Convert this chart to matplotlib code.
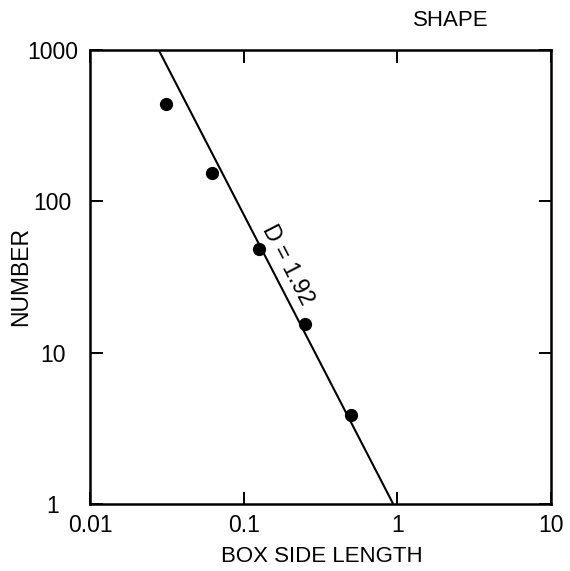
import numpy as np
import matplotlib
matplotlib.use('Agg')
import matplotlib.pyplot as plt
from matplotlib.ticker import FixedLocator, NullLocator

plt.rcParams['font.family'] = ['Liberation Sans', 'DejaVu Sans']

# box-counting data
box_size = [0.03125, 0.0625, 0.125, 0.25, 0.5]
box_count = [440, 154, 48.5, 15.5, 3.9]

# fitted line (D = 1.92)
fit_x = [0.028, 0.94]
fit_y = [1000, 1]
dim_label = 'D = 1.92'

xticks = [0.01, 0.1, 1, 10]
xtick_labels = ['0.01', '0.1', '1', '10']
yticks = [1, 10, 100, 1000]
ytick_labels = ['1', '10', '100', '1000']

fig = plt.figure(figsize=(5.7, 5.71), dpi=100)
ax = fig.add_axes([90 / 570, 1 - 504 / 571, 461 / 570, 454 / 571])

ax.set_xscale('log')
ax.set_yscale('log')
ax.set_xlim(0.01, 10)
ax.set_ylim(1, 1000)

ax.plot(fit_x, fit_y, color='black', lw=1.5, solid_capstyle='butt')
ax.plot(box_size, box_count, 'o', color='black', markersize=8.5)

# ticks
ax.xaxis.set_major_locator(FixedLocator(xticks))
ax.yaxis.set_major_locator(FixedLocator(yticks))
ax.xaxis.set_minor_locator(NullLocator())
ax.yaxis.set_minor_locator(NullLocator())
ax.set_xticklabels(xtick_labels)
ax.set_yticklabels(ytick_labels)
ax.tick_params(direction='in', length=9, width=1.4, top=True, right=True,
               labelsize=16.5)
ax.tick_params(axis='x', pad=7)
ax.tick_params(axis='y', pad=27)
for lab in ax.get_yticklabels():
    lab.set_horizontalalignment('center')

for sp in ax.spines.values():
    sp.set_linewidth(1.8)

ax.set_xlabel('BOX SIDE LENGTH', fontsize=16)
ax.set_ylabel('NUMBER', fontsize=16.5)
ax.xaxis.set_label_coords(0.503, -0.092)
ax.yaxis.set_label_coords(-0.126, 0.5)

# label along the fitted line
p0 = ax.transData.transform((fit_x[0], fit_y[0]))
p1 = ax.transData.transform((fit_x[1], fit_y[1]))
angle = np.degrees(np.arctan2(p1[1] - p0[1], p1[0] - p0[0]))
ax.text(0.193, 38, dim_label, fontsize=16.5, rotation=angle,
        rotation_mode='anchor', ha='center', va='center')

fig.text(451 / 570, 1 - 20 / 571, 'SHAPE', fontsize=16, ha='center', va='center')

fig.savefig('out.png', dpi=100)
